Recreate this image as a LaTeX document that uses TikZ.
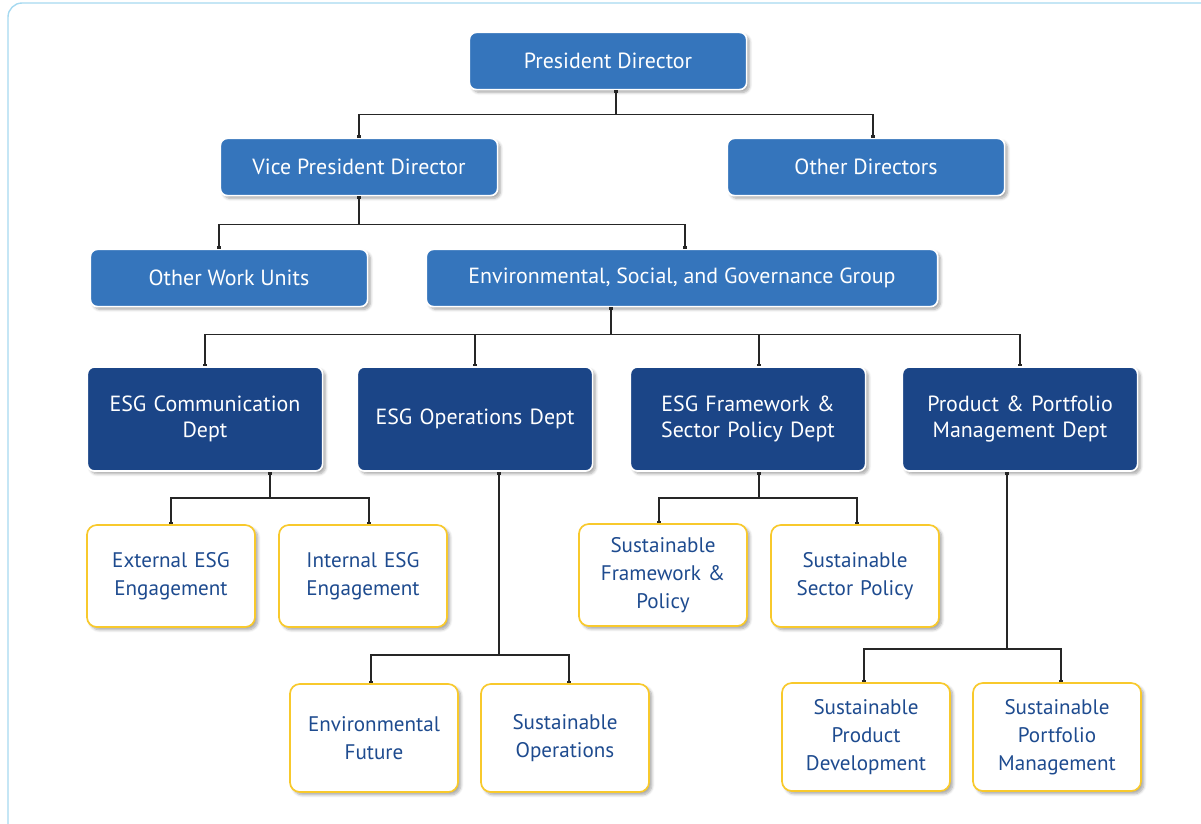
\documentclass[tikz,border=0pt]{standalone}
\usepackage{fontspec}
\setmainfont{PT Sans}
\usepackage{xcolor}
\usetikzlibrary{arrows.meta, calc, shadows.blur}

\definecolor{midblue}{HTML}{3575BC}
\definecolor{deepblue}{HTML}{1B4587}
\definecolor{gold}{HTML}{F8C92C}
\definecolor{leaftext}{HTML}{1E4B8F}
\definecolor{framecol}{HTML}{A6D9F0}

\begin{document}
\begin{tikzpicture}[
    x=0.025cm, y=-0.025cm,
    shade/.style={blur shadow={shadow xshift=2pt, shadow yshift=-2pt, shadow opacity=35, shadow blur steps=6}},
    topbox/.style={shade, draw=white, line width=1.2pt, fill=midblue, rounded corners=5pt, text=white,
        minimum width=6.93cm, minimum height=1.43cm, font=\fontsize{15.6}{18.5}\selectfont, align=center, inner sep=0pt},
    deptbox/.style={shade, draw=white, line width=1.2pt, fill=deepblue, rounded corners=5pt, text=white,
        minimum width=5.88cm, minimum height=2.6cm, text width=5.5cm, font=\fontsize{15.6}{18.5}\selectfont, align=center, inner sep=0pt},
    leafbox/.style={shade, draw=gold, line width=1.2pt, fill=white, rounded corners=7pt, text=leaftext,
        minimum width=4.2cm, minimum height=2.55cm, text width=3.9cm, font=\fontsize{15}{19.9}\selectfont, align=center, inner sep=0pt},
    link/.style={draw=black!85, line width=0.9pt},
    tap/.style={link, {Square[length=2pt, width=2.6pt]}-},
    drop/.style={link, -{Square[length=1.6pt, width=2.4pt]}},
]
\useasboundingbox (0,0) rectangle (1201,823);
\draw[framecol, line width=1pt, rounded corners=10pt] (8,835) -- (8,3) -- (1215,3);

% top levels
\node[topbox] (pres) at (608,61) {President Director};
\node[topbox] (vice) at (359,167) {Vice President Director};
\node[topbox] (odir) at (866,167) {Other Directors};
\node[topbox] (ounit) at (229,278) {Other Work Units};
\node[topbox, minimum width=12.78cm] (group) at (682,278) {Environmental, Social, and Governance Group};

% departments
\node[deptbox] (comm) at (205,419) {ESG Communication\\Dept};
\node[deptbox] (ops) at (475,419) {ESG Operations Dept};
\node[deptbox] (frame) at (748,419) {ESG Framework \&\\Sector Policy Dept};
\node[deptbox] (prod) at (1020,419) {Product \& Portfolio\\Management Dept};

% units under departments
\node[leafbox] (ext) at (171,576) {External ESG\\Engagement};
\node[leafbox] (int) at (363,576) {Internal ESG\\Engagement};
\node[leafbox] (sfp) at (663,575) {Sustainable\\Framework \&\\Policy};
\node[leafbox] (ssp) at (855,576) {Sustainable\\Sector Policy};
\node[leafbox, minimum height=2.7cm] (env) at (374,738) {Environmental\\Future};
\node[leafbox, minimum height=2.7cm] (sop) at (565,738) {Sustainable\\Operations};
\node[leafbox, minimum height=2.7cm] (spd) at (866,737) {Sustainable\\Product\\Development};
\node[leafbox, minimum height=2.7cm] (spm) at (1057,737) {Sustainable\\Portfolio\\Management};

% connectors
\draw[tap] ($(pres.south)+(8,0)$) -- ++(0,24) coordinate (j1);
\draw[drop] (j1) -| (vice.north);
\draw[drop] (j1) -| ($(odir.north)+(7,0)$);

\draw[tap] (vice.south) -- ++(0,28) coordinate (j2);
\draw[drop] (j2) -| ($(ounit.north)+(-10,0)$);
\draw[drop] (j2) -| ($(group.north)+(3,0)$);

\draw[tap] ($(group.south)+(-71,0)$) -- ++(0,27) coordinate (j3);
\draw[drop] (j3) -| (comm.north);
\draw[drop] (j3) -| (ops.north);
\draw[drop] (j3) -| ($(frame.north)+(11,0)$);
\draw[drop] (j3) -| (prod.north);

\draw[tap] ($(comm.south)+(65,0)$) -- ++(0,26) coordinate (j4);
\draw[drop] (j4) -| (ext.north);
\draw[drop] (j4) -| ($(int.north)+(6,0)$);

\draw[tap] ($(ops.south)+(24,0)$) -- ++(0,183) coordinate (j5);
\draw[drop] (j5) -| ($(env.north)+(-3,0)$);
\draw[drop] (j5) -| ($(sop.north)+(4,0)$);

\draw[tap] ($(frame.south)+(11,0)$) -- ++(0,26) coordinate (j6);
\draw[drop] (j6) -| ($(sfp.north)+(-4,0)$);
\draw[drop] (j6) -| ($(ssp.north)+(2,0)$);

\draw[tap] ($(prod.south)+(-13,0)$) -- ++(0,177) coordinate (j7);
\draw[drop] (j7) -| ($(spd.north)+(-2,0)$);
\draw[drop] (j7) -| ($(spm.north)+(4,0)$);
\end{tikzpicture}
\end{document}
